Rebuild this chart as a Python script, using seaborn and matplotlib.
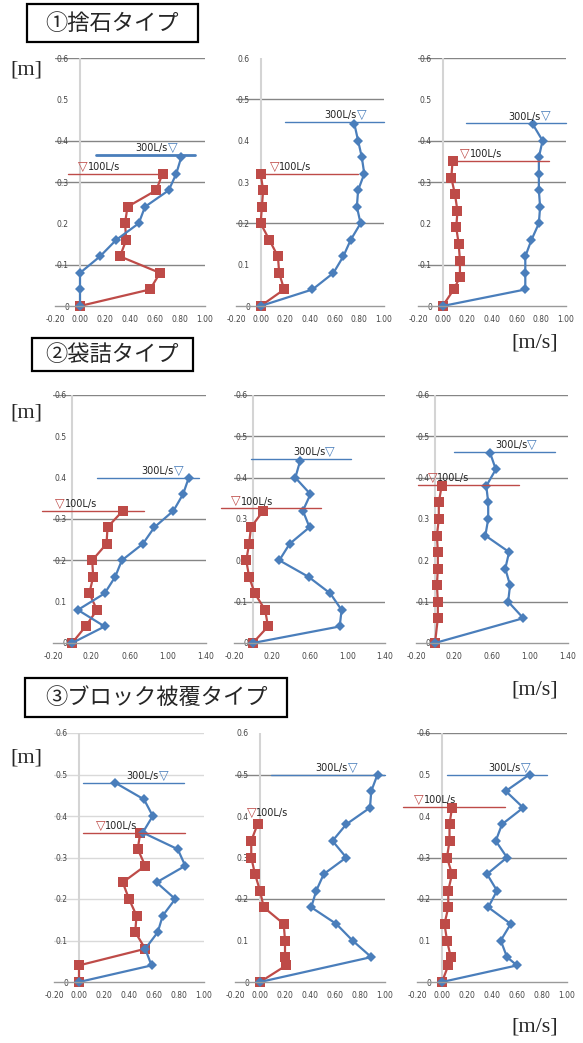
# Velocity profiles for three revetment types (100L/s and 300L/s)
import numpy as np
import matplotlib
matplotlib.use("Agg")
import matplotlib.pyplot as plt
from matplotlib.patches import Rectangle
import seaborn as sns

# ---- data: depth [m] and velocity [m/s] ----
# row 1 : rubble type
y100_1 = [0, 0.04, 0.08, 0.12, 0.16, 0.20, 0.24, 0.28, 0.32]
u100_1 = [0.00, 0.56, 0.64, 0.32, 0.37, 0.36, 0.38, 0.61, 0.66]
y300_1 = [0, 0.04, 0.08, 0.12, 0.16, 0.20, 0.24, 0.28, 0.32, 0.36]
u300_1 = [0.00, 0.00, 0.00, 0.16, 0.29, 0.47, 0.52, 0.71, 0.77, 0.81]

y100_2 = [0, 0.04, 0.08, 0.12, 0.16, 0.20, 0.24, 0.28, 0.32]
u100_2 = [0.00, 0.19, 0.15, 0.14, 0.07, 0.00, 0.01, 0.02, 0.00]
y300_2 = [0, 0.04, 0.08, 0.12, 0.16, 0.20, 0.24, 0.28, 0.32, 0.36, 0.40, 0.44]
u300_2 = [0.00, 0.42, 0.59, 0.67, 0.73, 0.81, 0.78, 0.79, 0.84, 0.82, 0.79, 0.76]

y100_3 = [0, 0.04, 0.07, 0.11, 0.15, 0.19, 0.23, 0.27, 0.31, 0.35]
u100_3 = [0.00, 0.09, 0.14, 0.14, 0.13, 0.11, 0.12, 0.10, 0.07, 0.08]
y300_3 = [0, 0.04, 0.08, 0.12, 0.16, 0.20, 0.24, 0.28, 0.32, 0.36, 0.40, 0.44]
u300_3 = [0.00, 0.67, 0.67, 0.67, 0.72, 0.78, 0.79, 0.78, 0.78, 0.78, 0.81, 0.73]

# row 2 : bag type
y100_4 = [0, 0.04, 0.08, 0.12, 0.16, 0.20, 0.24, 0.28, 0.32]
u100_4 = [0.00, 0.14, 0.26, 0.18, 0.22, 0.21, 0.36, 0.37, 0.53]
y300_4 = [0, 0.04, 0.08, 0.12, 0.16, 0.20, 0.24, 0.28, 0.32, 0.36, 0.40]
u300_4 = [0.00, 0.34, 0.06, 0.34, 0.45, 0.52, 0.74, 0.86, 1.06, 1.16, 1.22]

y100_5 = [0, 0.04, 0.08, 0.12, 0.16, 0.20, 0.24, 0.28, 0.32]
u100_5 = [0.00, 0.16, 0.13, 0.02, -0.04, -0.07, -0.04, -0.02, 0.11]
y300_5 = [0, 0.04, 0.08, 0.12, 0.16, 0.20, 0.24, 0.28, 0.32, 0.36, 0.40, 0.44]
u300_5 = [0.00, 0.92, 0.94, 0.82, 0.59, 0.28, 0.39, 0.60, 0.53, 0.61, 0.45, 0.50]

y100_6 = [0, 0.06, 0.10, 0.14, 0.18, 0.22, 0.26, 0.30, 0.34, 0.38]
u100_6 = [0.00, 0.03, 0.03, 0.02, 0.03, 0.03, 0.02, 0.04, 0.04, 0.07]
y300_6 = [0, 0.06, 0.10, 0.14, 0.18, 0.22, 0.26, 0.30, 0.34, 0.38, 0.42, 0.46]
u300_6 = [0.00, 0.93, 0.77, 0.79, 0.74, 0.78, 0.53, 0.56, 0.56, 0.54, 0.64, 0.58]

# row 3 : block type
y100_7 = [0, 0.04, 0.08, 0.12, 0.16, 0.20, 0.24, 0.28, 0.32, 0.36]
u100_7 = [0.00, 0.00, 0.53, 0.45, 0.46, 0.40, 0.35, 0.53, 0.47, 0.49]
y300_7 = [0, 0.04, 0.08, 0.12, 0.16, 0.20, 0.24, 0.28, 0.32, 0.36, 0.40, 0.44, 0.48]
u300_7 = [0.00, 0.58, 0.53, 0.63, 0.67, 0.77, 0.62, 0.85, 0.79, 0.51, 0.59, 0.52, 0.29]

y100_8 = [0, 0.04, 0.06, 0.10, 0.14, 0.18, 0.22, 0.26, 0.30, 0.34, 0.38]
u100_8 = [0.00, 0.21, 0.20, 0.20, 0.19, 0.03, 0.00, -0.04, -0.07, -0.07, -0.02]
y300_8 = [0, 0.06, 0.10, 0.14, 0.18, 0.22, 0.26, 0.30, 0.34, 0.38, 0.42, 0.46, 0.50]
u300_8 = [0.00, 0.89, 0.74, 0.61, 0.41, 0.45, 0.51, 0.69, 0.58, 0.69, 0.88, 0.89, 0.94]

y100_9 = [0, 0.04, 0.06, 0.10, 0.14, 0.18, 0.22, 0.26, 0.30, 0.34, 0.38, 0.42]
u100_9 = [0.00, 0.05, 0.07, 0.04, 0.02, 0.05, 0.05, 0.08, 0.04, 0.06, 0.06, 0.08]
y300_9 = [0, 0.04, 0.06, 0.10, 0.14, 0.18, 0.22, 0.26, 0.30, 0.34, 0.38, 0.42, 0.46, 0.50]
u300_9 = [0.00, 0.60, 0.52, 0.47, 0.55, 0.37, 0.44, 0.36, 0.52, 0.43, 0.48, 0.65, 0.51, 0.70]

# water surface: level, line start, line end, label anchor
surf100 = [(0.32, -0.10, 0.67, 0.06), (0.32, 0.00, 0.79, 0.15), (0.352, 0.05, 0.86, 0.22),
           (0.32, -0.32, 0.75, -0.075), (0.326, -0.34, 0.72, -0.125), (0.382, -0.18, 0.88, 0.025),
           (0.36, 0.03, 0.85, 0.21), (0.39, None, None, -0.03), (0.422, -0.31, 0.50, -0.145)]
surf300 = [(0.365, 0.13, 0.92, 0.70), (0.445, 0.195, 1.00, 0.78), (0.442, 0.19, 1.00, 0.795),
           (0.40, 0.255, 1.33, 1.06), (0.445, -0.02, 1.04, 0.765), (0.462, 0.20, 1.26, 0.97),
           (0.48, 0.03, 0.84, 0.64), (0.50, 0.09, 1.00, 0.70), (0.50, 0.04, 0.84, 0.63)]

# horizontal lines that show in each panel of the scan
grids = [[0.1, 0.3, 0.4, 0.6], [0.2, 0.5], [0.1, 0.3, 0.4, 0.6],
         [0.2, 0.3, 0.6], [0.1, 0.4, 0.5, 0.6], [0.1, 0.4, 0.5, 0.6],
         [0.1, 0.2, 0.3, 0.4, 0.5, 0.6], [0.2, 0.5], [0.2, 0.3, 0.6]]

xticks_a = [-0.2, 0.0, 0.2, 0.4, 0.6, 0.8, 1.0]
xticks_b = [-0.2, 0.2, 0.6, 1.0, 1.4]
yticks = [0, 0.1, 0.2, 0.3, 0.4, 0.5, 0.6]
ylabels = ["0", "0.1", "0.2", "0.3", "0.4", "0.5", "0.6"]

titles = ["①捨石タイプ", "②袋詰タイプ", "③ブロック被覆タイプ"]

RED = "#be4b48"
BLUE = "#4a7ebb"

sns.set_style("white")
plt.rcParams["font.family"] = ["DejaVu Sans"]

W, H = 583, 1043
fig = plt.figure(figsize=(W / 100, H / 100), dpi=100)

# panel frames in pixels: left, right, top, bottom
frames = [(55, 205, 58, 306), (236, 384, 58, 306), (418, 566, 58, 306),
          (53, 206, 395, 643), (234, 385, 395, 643), (416, 568, 395, 643),
          (54, 204, 733, 982), (235, 385, 733, 982), (417, 567, 733, 982)]

profiles = [(u100_1, y100_1, u300_1, y300_1), (u100_2, y100_2, u300_2, y300_2),
            (u100_3, y100_3, u300_3, y300_3), (u100_4, y100_4, u300_4, y300_4),
            (u100_5, y100_5, u300_5, y300_5), (u100_6, y100_6, u300_6, y300_6),
            (u100_7, y100_7, u300_7, y300_7), (u100_8, y100_8, u300_8, y300_8),
            (u100_9, y100_9, u300_9, y300_9)]

for i, (l, r, t, b) in enumerate(frames):
    ax = fig.add_axes([l / W, 1 - b / H, (r - l) / W, (b - t) / H])
    row = i // 3
    xt = xticks_b if row == 1 else xticks_a
    ax.set_xlim(xt[0], xt[-1])
    ax.set_ylim(0, 0.6)

    # grid and axes lines
    gcol = "#d9d9d9" if i == 6 else "#858585"
    for g in grids[i]:
        ax.axhline(g, color=gcol, lw=1, zorder=0)
    ax.axvline(0, color="#d4d4d4", lw=1.5, zorder=0)
    for s in ["top", "right", "left"]:
        ax.spines[s].set_visible(False)
    ax.spines["bottom"].set_color("#9a9a9a")
    ax.spines["bottom"].set_linewidth(1)

    u1, y1, u3, y3 = profiles[i]
    sns.lineplot(x=u1, y=y1, sort=False, estimator=None, color=RED, marker="s",
                 markersize=6.5, markeredgewidth=0, linewidth=1.6, clip_on=False, ax=ax)
    sns.lineplot(x=u3, y=y3, sort=False, estimator=None, color=BLUE, marker="D",
                 markersize=4.8, markeredgewidth=0, linewidth=1.6, clip_on=False, ax=ax)

    # water surface lines and labels
    lv, x0, x1, xa = surf100[i]
    if x0 is not None:
        ax.plot([x0, x1], [lv, lv], color=RED, lw=1, clip_on=False)
    ax.text(xa, lv + 0.002, "▽", color=RED, fontsize=9, ha="right", va="bottom")
    ax.text(xa, lv + 0.004, "100L/s", color="#222222", fontsize=7, ha="left", va="bottom")
    lv, x0, x1, xa = surf300[i]
    ax.plot([x0, x1], [lv, lv], color=BLUE, lw=2 if i == 0 else 1, clip_on=False)
    ax.text(xa, lv + 0.004, "300L/s", color="#222222", fontsize=7, ha="right", va="bottom")
    ax.text(xa, lv + 0.002, "▽", color=BLUE, fontsize=9, ha="left", va="bottom")

    ax.set_xticks(xt)
    ax.set_xticklabels(["{:.2f}".format(v) for v in xt])
    ax.set_yticks(yticks)
    ax.set_yticklabels(ylabels)
    ax.tick_params(axis="x", length=2.5, width=0.8, color="#9a9a9a", pad=4,
                   labelsize=5.5, labelcolor="#444444")
    ax.tick_params(axis="y", length=0, pad=-10, labelsize=5.5, labelcolor="#444444")
    ax.set_xlabel("")
    ax.set_ylabel("")

# title boxes
boxes = [(27, 198, 4, 42), (32, 193, 338, 371), (25, 287, 678, 717)]
for (l, r, t, b), title in zip(boxes, titles):
    fig.add_artist(Rectangle((l / W, 1 - b / H), (r - l) / W, (b - t) / H,
                             transform=fig.transFigure, fill=False, ec="black", lw=1.6))
    fig.text((l + r) / 2 / W, 1 - (t + b) / 2 / H, title, ha="center", va="center",
             fontsize=16, family=["Noto Sans CJK JP", "DejaVu Sans"])

# unit labels
for y in [70, 413, 758]:
    fig.text(10 / W, 1 - y / H, "[m]", ha="left", va="center", fontsize=16,
             family=["Liberation Serif"])
for y in [343, 690, 1027]:
    fig.text(535 / W, 1 - y / H, "[m/s]", ha="center", va="center", fontsize=16,
             family=["Liberation Serif"])

plt.savefig("out.png", dpi=100)
